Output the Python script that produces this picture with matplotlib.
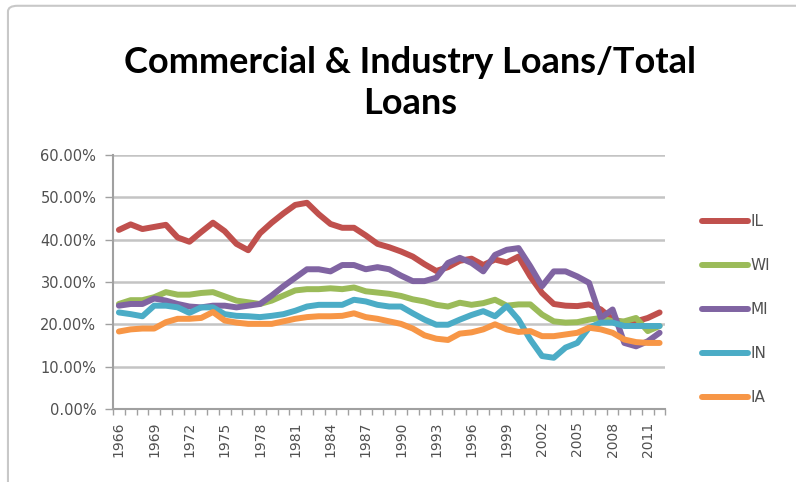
import matplotlib.pyplot as plt
import numpy as np
from matplotlib.patches import FancyBboxPatch
from matplotlib.ticker import FuncFormatter

years = list(range(1966, 2013))

IL = [42.3, 43.6, 42.5, 43.0, 43.5, 40.5, 39.5, 41.8, 44.0, 42.0, 39.0, 37.5, 41.5, 44.0, 46.2, 48.2,
      48.7, 46.0, 43.7, 42.8, 42.8, 41.0, 39.0, 38.2, 37.2, 36.0, 34.2, 32.6, 33.5, 35.0, 35.5,
      34.0, 35.3, 34.6, 36.0, 31.3, 27.4, 24.8, 24.4, 24.3, 24.7, 23.5, 21.2, 20.4, 20.7, 21.5, 22.8]
WI = [24.8, 25.7, 25.7, 26.4, 27.6, 27.0, 27.0, 27.4, 27.6, 26.6, 25.6, 25.2, 24.8, 25.6, 26.8, 28.0,
      28.3, 28.3, 28.5, 28.3, 28.7, 27.8, 27.5, 27.2, 26.7, 25.9, 25.4, 24.6, 24.2, 25.1, 24.6,
      25.0, 25.8, 24.4, 24.7, 24.7, 22.3, 20.7, 20.4, 20.5, 21.1, 21.5, 20.7, 20.7, 21.5, 18.4, 19.6]
MI = [24.4, 24.8, 24.8, 26.1, 25.6, 24.8, 24.2, 24.0, 24.4, 24.4, 24.0, 24.4, 24.8, 26.8, 29.0, 31.0,
      33.0, 33.0, 32.5, 34.0, 34.0, 33.0, 33.5, 33.0, 31.5, 30.2, 30.2, 31.0, 34.5, 35.7, 34.5,
      32.5, 36.4, 37.6, 38.0, 33.7, 29.0, 32.5, 32.5, 31.3, 29.8, 21.5, 23.5, 15.6, 14.8, 16.0, 18.0]
IN = [22.8, 22.4, 21.9, 24.4, 24.4, 24.0, 22.7, 24.0, 24.0, 22.4, 22.0, 21.9, 21.7, 22.0, 22.4, 23.2,
      24.2, 24.6, 24.6, 24.6, 25.8, 25.4, 24.6, 24.2, 24.2, 22.6, 21.1, 19.9, 19.9, 21.1, 22.2,
      23.1, 21.9, 24.3, 21.1, 16.4, 12.5, 12.1, 14.5, 15.6, 19.2, 20.4, 20.4, 19.6, 19.6, 19.6, 19.6]
IA = [18.3, 18.8, 19.0, 19.0, 20.5, 21.3, 21.3, 21.5, 22.9, 20.9, 20.4, 20.1, 20.1, 20.1, 20.7, 21.3,
      21.7, 21.9, 21.9, 22.0, 22.6, 21.7, 21.3, 20.7, 20.1, 19.0, 17.4, 16.6, 16.3, 17.8, 18.1,
      18.8, 20.0, 18.8, 18.2, 18.4, 17.2, 17.2, 17.6, 18.0, 19.2, 18.8, 18.0, 16.4, 15.8, 15.6, 15.6]

series = [("IL", IL, "#c0504d"), ("WI", WI, "#9bbb59"), ("MI", MI, "#8064a2"),
          ("IN", IN, "#4bacc6"), ("IA", IA, "#f79646")]

fig = plt.figure(figsize=(7.96, 4.82), dpi=100)
fig.patch.set_facecolor("white")

# chart frame like the Excel chart area (only left and top edges show)
fig.patches.append(FancyBboxPatch((0.010, -0.1), 1.1, 1.088, boxstyle="round,pad=0,rounding_size=0.012",
                                  transform=fig.transFigure, fill=False, edgecolor="#c8c8c8", linewidth=1.5))

ax = fig.add_axes([0.142, 0.1515, 0.694, 0.527])
x = np.arange(len(years))
for name, vals, col in series:
    ax.plot(x, np.array(vals) / 100, color=col, linewidth=4.3, label=name, solid_capstyle="round",
            solid_joinstyle="round")

ax.set_xlim(-0.5, len(years) - 0.5)
ax.set_ylim(0, 0.6)
ax.set_yticks(np.arange(0, 0.61, 0.1))
ax.yaxis.set_major_formatter(FuncFormatter(lambda v, p: "%.2f%%" % (v * 100)))
ax.grid(axis="y", color="#c4c4c4", linewidth=1.8)
ax.set_axisbelow(True)

ax.set_xticks(x[::3])
ax.set_xticklabels([str(y) for y in years[::3]], rotation=90)
ax.set_xticks(np.arange(-0.5, len(years), 1), minor=True)
ax.tick_params(axis="x", which="major", length=0, pad=9, labelsize=10, labelcolor="#505050")
ax.tick_params(axis="x", which="minor", length=4, color="#a0a0a0", width=1)
ax.tick_params(axis="y", length=6, color="#a0a0a0", width=1, labelsize=10.5, labelcolor="#505050", pad=6)

for s in ["top", "right"]:
    ax.spines[s].set_visible(False)
for s in ["left", "bottom"]:
    ax.spines[s].set_color("#a0a0a0")
    ax.spines[s].set_linewidth(1.5)

fig.text(0.515, 0.871, "Commercial & Industry Loans/Total", ha="center", va="center",
         fontsize=26, fontweight="bold", family="Lato")
fig.text(0.515, 0.785, "Loans", ha="center", va="center",
         fontsize=26, fontweight="bold", family="Lato")

leg = ax.legend(loc="center left", bbox_to_anchor=(1.055, 0.39), frameon=False, fontsize=11,
                handlelength=3.0, handletextpad=0.2, labelspacing=1.9, borderaxespad=0)
for t in leg.get_texts():
    t.set_color("#505050")

fig.savefig("out.png", dpi=100)
